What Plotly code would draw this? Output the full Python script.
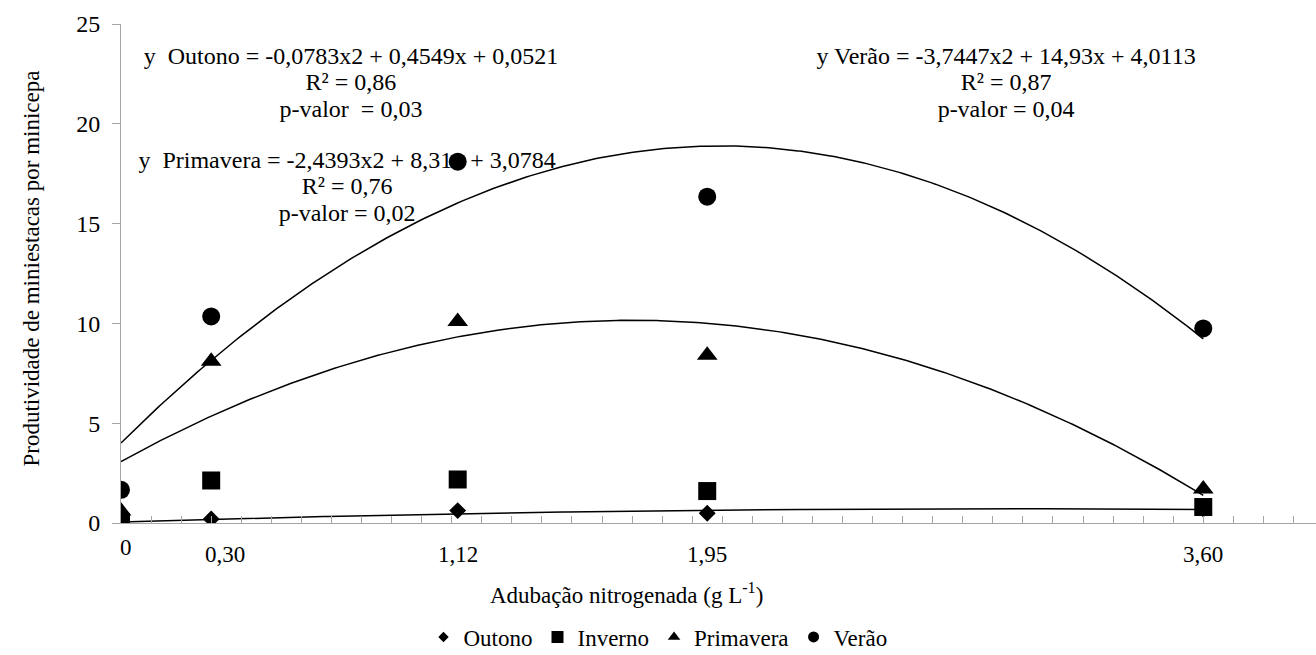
import numpy as np
import plotly.graph_objects as go

# Doses of nitrogen fertilisation (g L-1)
doses = [0, 0.30, 1.12, 1.95, 3.60]
dose_labels = ["0", "0,30", "1,12", "1,95", "3,60"]

# Mini-cutting productivity per mini-stump, by season
outono = [0.0, 0.20, 0.62, 0.49, 0.70]
inverno = [0.05, 2.13, 2.18, 1.60, 0.80]
primavera = [0.60, 8.10, 10.10, 8.40, 1.70]
verao = [1.66, 10.35, 18.10, 16.35, 9.75]

# Quadratic fits (a, b, c) as reported in the equations
fit_outono = (-0.0783, 0.4549, 0.0521)
fit_primavera = (-2.4393, 8.31, 3.0784)
fit_verao = (-3.7447, 14.93, 4.0113)

eq_outono = ["y\u00a0\u00a0Outono = -0,0783x2 + 0,4549x + 0,0521", "R² = 0,86", "p-valor\u00a0\u00a0= 0,03"]
eq_primavera = ["y\u00a0\u00a0Primavera = -2,4393x2 + 8,31x + 3,0784", "R² = 0,76", "p-valor = 0,02"]
eq_verao = ["y Verão = -3,7447x2 + 14,93x + 4,0113", "R² = 0,87", "p-valor = 0,04"]

FONT = "Liberation Serif, Times New Roman, Times, serif"
AXIS_GRAY = "#a6a6a6"

fig = go.Figure()


def eq_block(lines, xc, ytop, step=1.33):
    ys = [ytop - i * step for i in range(len(lines))]
    fig.add_trace(go.Scatter(
        x=[xc] * len(lines), y=ys, text=lines, mode="text",
        textposition="middle center",
        textfont=dict(family=FONT, size=24, color="black"),
        showlegend=False, hoverinfo="skip"))


# Equation texts sit beneath the markers
eq_block(eq_outono, 0.765, 23.3)
eq_block(eq_primavera, 0.752, 18.1)
eq_block(eq_verao, 2.944, 23.3)

# Fitted curves
xs = np.linspace(0, 3.6, 300)
for a, b, c in (fit_outono, fit_primavera, fit_verao):
    fig.add_trace(go.Scatter(
        x=xs, y=a * xs ** 2 + b * xs + c, mode="lines",
        line=dict(color="black", width=1.5),
        showlegend=False, hoverinfo="skip"))

series = [
    ("Outono", outono, "diamond", 13, 8),
    ("Inverno", inverno, "square", 18, 12),
    ("Primavera", primavera, "triangle-up", 18, 11),
    ("Verão", verao, "circle", 18, 11),
]
for name, vals, sym, size, _ in series:
    fig.add_trace(go.Scatter(
        x=doses, y=vals, mode="markers", name=name,
        marker=dict(symbol=sym, size=size, color="black"),
        showlegend=False))
# Legend entries with small symbols
for name, _, sym, _, lsize in series:
    fig.add_trace(go.Scatter(
        x=[None], y=[None], mode="markers", name=name,
        marker=dict(symbol=sym, size=lsize, color="black")))

annotations = []
for xv, lab in zip(doses, dose_labels):
    shift = 14 if lab == "0,30" else (5 if lab == "0" else 0)
    annotations.append(dict(
        x=xv, xref="x", y=(-0.0501 if lab == "0" else -0.0641), yref="paper",
        text=lab, showarrow=False, xshift=shift, yanchor="middle",
        font=dict(family=FONT, size=23, color="black")))
annotations.append(dict(
    x=0.4226, xref="paper", y=-0.1403, yref="paper",
    text="Adubação nitrogenada (g L<sup>-1</sup>)", showarrow=False,
    yanchor="middle", font=dict(family=FONT, size=23, color="black")))
annotations.append(dict(
    x=-0.0753, xref="paper", y=0.51, yref="paper", textangle=-90,
    text="Produtividade de miniestacas por minicepa", showarrow=False,
    xanchor="center", yanchor="middle",
    font=dict(family=FONT, size=23, color="black")))

fig.update_layout(
    width=1316, height=655,
    margin=dict(l=121, r=0, t=24, b=132),
    paper_bgcolor="white", plot_bgcolor="white",
    font=dict(family=FONT, color="black"),
    xaxis=dict(range=[0, 3.975], showline=True, linecolor=AXIS_GRAY, linewidth=1,
               ticks="inside", tickmode="linear", tick0=0, dtick=0.1,
               ticklen=7, tickcolor=AXIS_GRAY, showticklabels=False,
               showgrid=False, zeroline=False),
    yaxis=dict(range=[0, 25], showline=True, linecolor=AXIS_GRAY, linewidth=1,
               ticks="outside", tickmode="linear", tick0=0, dtick=5,
               ticklen=8, tickcolor=AXIS_GRAY, showgrid=False, zeroline=False,
               ticklabelstandoff=7,
               tickfont=dict(family=FONT, size=24, color="black")),
    legend=dict(orientation="h", xref="container", yref="container",
                x=0.5, xanchor="center", y=0.0275, yanchor="middle",
                font=dict(family=FONT, size=23, color="black"),
                itemwidth=30),
    annotations=annotations,
    showlegend=True,
)

fig.write_html("out.html")
